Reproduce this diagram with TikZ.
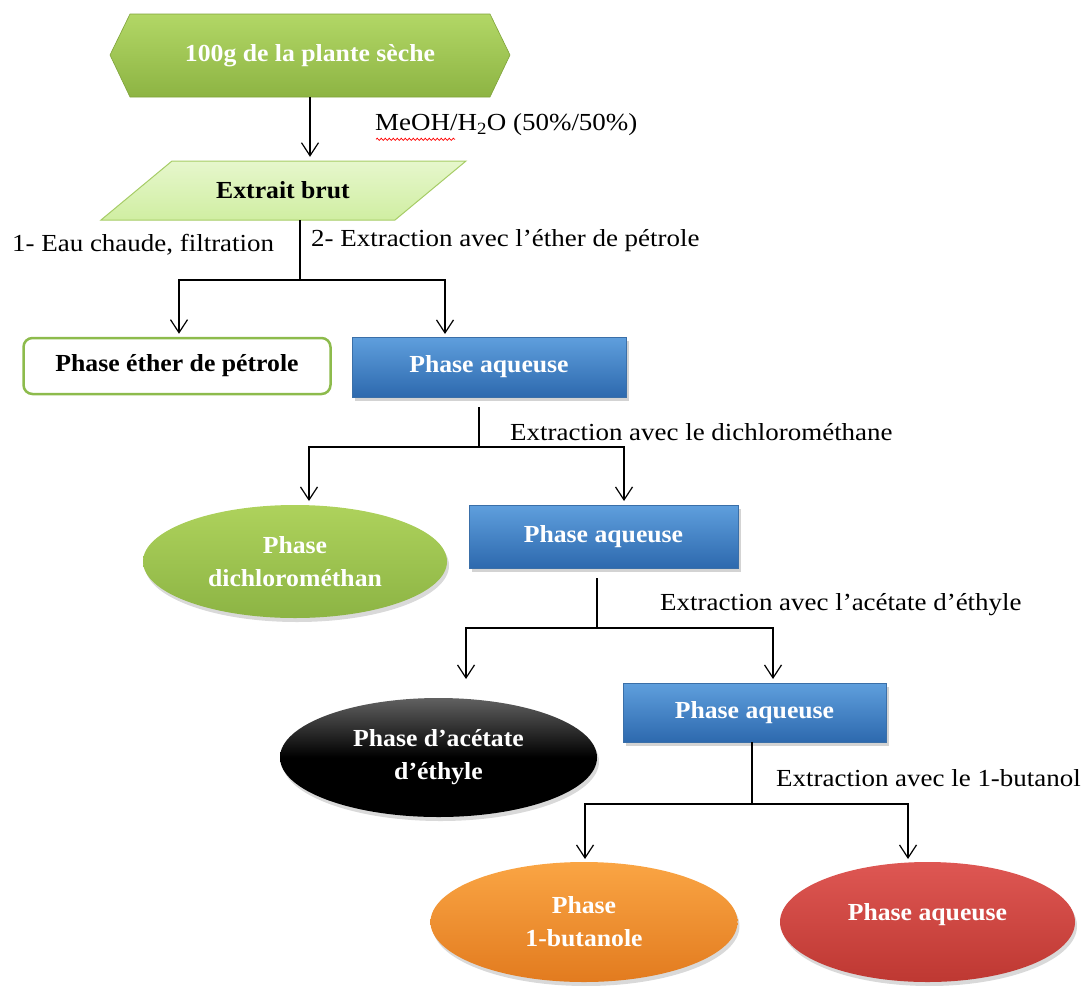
\documentclass[tikz,border=0pt]{standalone}
\usepackage{fontspec}
\setmainfont{Liberation Serif}[UprightFeatures={FakeStretch=1.1}, BoldFeatures={FakeStretch=1.05}]
\usetikzlibrary{arrows.meta,shadows,shapes.geometric,decorations.pathmorphing,calc}
\definecolor{hexTop}{HTML}{B2D766}
\definecolor{hexBot}{HTML}{8DB443}
\definecolor{hexBorder}{HTML}{7FA33A}
\definecolor{parTop}{HTML}{E6F7CC}
\definecolor{parBot}{HTML}{D0EEA2}
\definecolor{parBorder}{HTML}{A6CC66}
\definecolor{blueTop}{HTML}{5F9FDD}
\definecolor{blueBot}{HTML}{2D69AE}
\definecolor{blueBorder}{HTML}{3A6FA8}
\definecolor{etherBorder}{HTML}{8DBB4C}
\definecolor{grTop}{HTML}{AED25C}
\definecolor{grBot}{HTML}{8CB444}
\definecolor{orTop}{HTML}{FAA544}
\definecolor{orBot}{HTML}{E27B1F}
\definecolor{rdTop}{HTML}{DE5753}
\definecolor{rdBot}{HTML}{BE3832}
\begin{document}
\begin{tikzpicture}[x=1pt,y=-1pt,
  every node/.style={font=\fontsize{24.5}{33}\selectfont},
  conn/.style={draw=black, line width=1.2pt},
  arr/.style={conn, -{Straight Barb[length=13pt,width=17pt]}, shorten >=1pt},
  lbl/.style={anchor=west, inner sep=0pt, text=black},
  boldw/.style={font=\fontsize{24.5}{33}\selectfont\bfseries, text=white, align=center},
  bluebox/.style={rectangle, boldw, draw=blueBorder, line width=0.6pt,
    top color=blueTop, bottom color=blueBot,
    drop shadow={shadow xshift=3pt, shadow yshift=-4pt, opacity=0.35}},
  ovalbox/.style={ellipse, boldw, inner sep=0pt,
    drop shadow={shadow xshift=2pt, shadow yshift=-4pt, opacity=0.3}}
]
\useasboundingbox (0,0) rectangle (1084,985);

% top hexagon
\shade[top color=hexTop, bottom color=hexBot, draw=hexBorder, line width=0.6pt]
  (110,55) -- (130,14) -- (490,14) -- (510,55) -- (490,97) -- (130,97) -- cycle;
\node[boldw, minimum width=400pt, minimum height=83pt, inner sep=0pt] (plant) at (310,55.5) {100g de la plante sèche};

% parallelogram
\shade[top color=parTop, bottom color=parBot, draw=parBorder, line width=1pt]
  (172,161) -- (466,161) -- (395,220) -- (101,220) -- cycle;
\node[font=\fontsize{24.5}{33}\selectfont\bfseries, text=black, minimum width=250pt, minimum height=59pt, inner sep=0pt] (brut) at (283,190.5) {Extrait brut};

\draw[arr, shorten >=4pt] (plant.south) -- (plant.south |- brut.north);
\node[lbl] (meoh) at (375,125) {MeOH/H\textsubscript{2}O (50\%/50\%)};
\draw[red, line width=0.7pt, decorate, decoration={snake, amplitude=1.1pt, segment length=4pt}]
  ($(meoh.south west)+(1,3)$) -- ($(meoh.south west)+(80,3)$);

% level 1
\node[rectangle, draw=etherBorder, line width=2.5pt, rounded corners=9pt, fill=white,
  font=\fontsize{24.5}{33}\selectfont\bfseries, text=black,
  minimum width=307pt, minimum height=56pt] (ether) at (177,366) {Phase éther de pétrole};
\node[bluebox, minimum width=274pt, minimum height=60pt] (aq1) at (489,367) {Phase aqueuse};

\coordinate (s1) at (300,280);
\coordinate (e1) at (445,335);
\draw[conn] (s1 |- brut.south) -- (s1);
\draw[arr] (s1) -| ([yshift=2pt]ether.north -| 179,0);
\draw[arr] (s1) -| (e1);
\node[lbl] (lab1) at (12,245) {1- Eau chaude, filtration};
\node[lbl] (lab2) at (311,241) {2- Extraction avec l’éther de pétrole};

% level 2
\node[ovalbox, top color=grTop, bottom color=grBot, minimum width=304pt, minimum height=113pt] (dcm) at (295,561.5) {Phase\\dichlorométhan};
\node[bluebox, minimum width=269pt, minimum height=63pt] (aq2) at (603.5,536.5) {Phase aqueuse};

\coordinate (s2) at (479,447);
\coordinate (e2l) at (309,502);
\coordinate (e2r) at (624,502);
\draw[conn, line width=2.6pt] ([yshift=-10pt]s2 |- aq1.south) -- (s2);
\draw[arr] (s2) -| (e2l);
\draw[arr] (s2) -| (e2r);
\node[lbl] (lab3) at (510,432) {Extraction avec le dichlorométhane};

% level 3
\node[ovalbox, top color=black!62, bottom color=black, middle color=black, minimum width=317pt, minimum height=119pt] (acet) at (438.5,757.5) {Phase d’acétate\\d’éthyle};
\node[bluebox, minimum width=263pt, minimum height=59pt] (aq3) at (754.5,712.5) {Phase aqueuse};

\coordinate (s3) at (597,628);
\coordinate (e3l) at (466,680);
\coordinate (e3r) at (773,680);
\draw[conn] ([yshift=-10pt]s3 |- aq2.south) -- (s3);
\draw[arr] (s3) -| (e3l);
\draw[arr] (s3) -| (e3r);
\node[lbl] (lab4) at (660,605) {Extraction avec l’acétate d’éthyle};

% level 4
\node[ovalbox, top color=orTop, bottom color=orBot, minimum width=307pt, minimum height=120pt] (buta) at (584,922) {Phase\\1-butanole};
\node[ovalbox, top color=rdTop, bottom color=rdBot, minimum width=295pt, minimum height=120pt] (aqf) at (927.5,922) {\raisebox{20pt}{Phase aqueuse}};

\coordinate (s4) at (752,804);
\coordinate (e4l) at (585,860);
\coordinate (e4r) at (908,860);
\draw[conn] (s4 |- aq3.south) -- (s4);
\draw[arr] (s4) -| (e4l);
\draw[arr] (s4) -| (e4r);
\node[lbl] (lab5) at (776,778) {Extraction avec le 1-butanol};
\end{tikzpicture}
\end{document}
